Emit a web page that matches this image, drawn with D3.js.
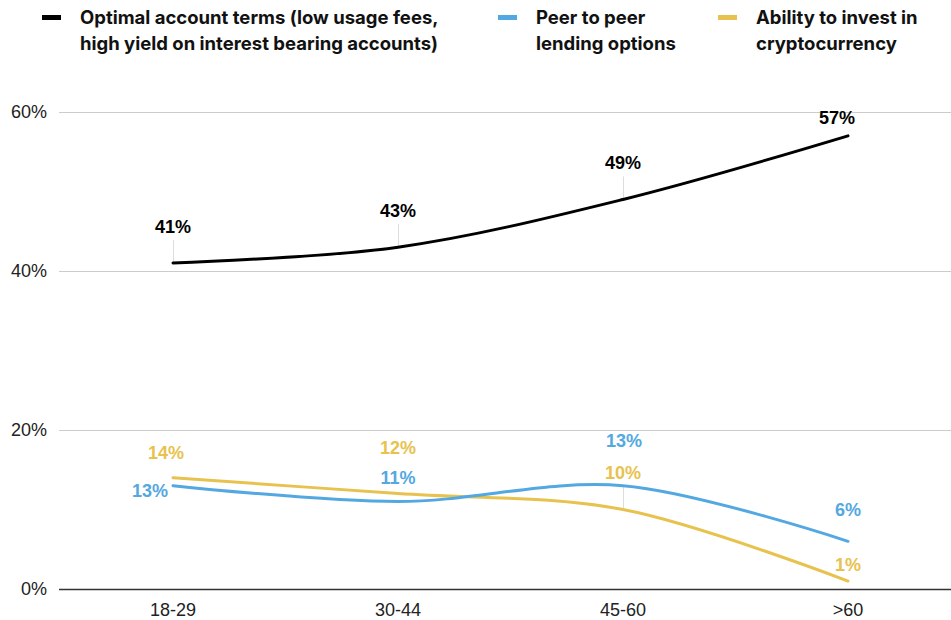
<!DOCTYPE html>
<html>
<head>
<meta charset="utf-8">
<script src="https://cdn.jsdelivr.net/npm/d3@7"></script>
<style>
  body { margin: 0; background: #fff; }
  svg { display: block; }
</style>
</head>
<body>
<svg id="chart" width="951" height="620"></svg>
<script>
// data
const ageGroups = ['18-29', '30-44', '45-60', '>60'];
const optimalTerms = [41, 43, 49, 57];
const peerLending = [13, 11, 13, 6];
const cryptoInvest = [14, 12, 10, 1];
const yTicks = [0, 20, 40, 60];

const series = [
  { name: ['Optimal account terms (low usage fees,', 'high yield on interest bearing accounts)'], values: optimalTerms, color: '#000000' },
  { name: ['Peer to peer', 'lending options'], values: peerLending, color: '#54a8e1' },
  { name: ['Ability to invest in', 'cryptocurrency'], values: cryptoInvest, color: '#e8c24e' },
];

// label placement per series/point: [dx, dy from point to baseline, anchor, leader]
const labelPlacement = [
  [[0, -30, 'middle', true], [0, -30, 'middle', true], [0, -30, 'middle', true], [-11, -12, 'middle', false]],
  [[-5, 11, 'end', false], [0, -18, 'middle', false], [1, -39, 'middle', false], [0, -25, 'middle', false]],
  [[-7, -19, 'middle', false], [0, -40, 'middle', false], [0, -31, 'middle', true], [0, -10, 'middle', false]],
];
const legendX = [42, 498, 718];

const svg = d3.select('#chart');
const labelFont = '"Liberation Sans", Arial, sans-serif';
const legendFont = 'Inter, "Noto Sans", sans-serif';

const x = d3.scalePoint().domain(ageGroups).range([173, 848]);
const y = d3.scaleLinear().domain([0, 60]).range([589, 112]);

// gridlines
svg.append('g')
  .selectAll('line')
  .data(yTicks)
  .join('line')
  .attr('x1', 59)
  .attr('x2', 951)
  .attr('y1', (d) => y(d) + 0.5)
  .attr('y2', (d) => y(d) + 0.5)
  .attr('stroke', (d) => (d === 0 ? '#333333' : '#cccccc'))
  .attr('stroke-width', (d) => (d === 0 ? 1.5 : 1));

// y axis labels
svg.append('g')
  .selectAll('text')
  .data(yTicks)
  .join('text')
  .attr('x', 47)
  .attr('y', (d) => y(d) + 6)
  .attr('text-anchor', 'end')
  .attr('font-family', labelFont)
  .attr('font-size', 18)
  .attr('fill', '#222')
  .text((d) => d + '%');

// x axis labels
svg.append('g')
  .selectAll('text')
  .data(ageGroups)
  .join('text')
  .attr('x', (d) => x(d))
  .attr('y', 616)
  .attr('text-anchor', 'middle')
  .attr('font-family', labelFont)
  .attr('font-size', 18)
  .attr('fill', '#222')
  .text((d) => d);

// points with their label placement
const points = series.flatMap((s, si) =>
  s.values.map((v, i) => ({
    value: v,
    group: ageGroups[i],
    color: s.color,
    dx: labelPlacement[si][i][0],
    dy: labelPlacement[si][i][1],
    anchor: labelPlacement[si][i][2],
    leader: labelPlacement[si][i][3],
  }))
);

// leader lines
svg.append('g')
  .selectAll('line')
  .data(points.filter((p) => p.leader))
  .join('line')
  .attr('x1', (d) => x(d.group) + 0.5)
  .attr('x2', (d) => x(d.group) + 0.5)
  .attr('y1', (d) => y(d.value))
  .attr('y2', (d) => y(d.value) + d.dy + 7)
  .attr('stroke', '#dddddd')
  .attr('stroke-width', 1);

// lines
const line = d3.line()
  .x((d, i) => x(ageGroups[i]))
  .y((d) => y(d))
  .curve(d3.curveCatmullRom.alpha(0.5));

svg.append('g')
  .selectAll('path')
  .data(series.slice().reverse())
  .join('path')
  .attr('d', (d) => line(d.values))
  .attr('fill', 'none')
  .attr('stroke', (d) => d.color)
  .attr('stroke-width', 3)
  .attr('stroke-linecap', 'round');

// data labels
svg.append('g')
  .selectAll('text')
  .data(points)
  .join('text')
  .attr('x', (d) => x(d.group) + d.dx)
  .attr('y', (d) => y(d.value) + d.dy)
  .attr('text-anchor', (d) => d.anchor)
  .attr('font-family', labelFont)
  .attr('font-weight', 'bold')
  .attr('font-size', 18)
  .attr('fill', (d) => d.color)
  .text((d) => d.value + '%');

// legend
const legend = svg.append('g')
  .selectAll('g')
  .data(series)
  .join('g')
  .attr('transform', (d, i) => `translate(${legendX[i]},0)`);

legend.append('rect')
  .attr('x', 0)
  .attr('y', 15)
  .attr('width', 19)
  .attr('height', 5)
  .attr('fill', (d) => d.color);

legend.append('text')
  .attr('font-family', legendFont)
  .attr('font-weight', 'bold')
  .attr('font-size', 18.5)
  .attr('fill', '#111')
  .selectAll('tspan')
  .data((d) => d.name)
  .join('tspan')
  .attr('x', 38)
  .attr('y', (d, i) => 24 + i * 26)
  .text((d) => d);
</script>
</body>
</html>
